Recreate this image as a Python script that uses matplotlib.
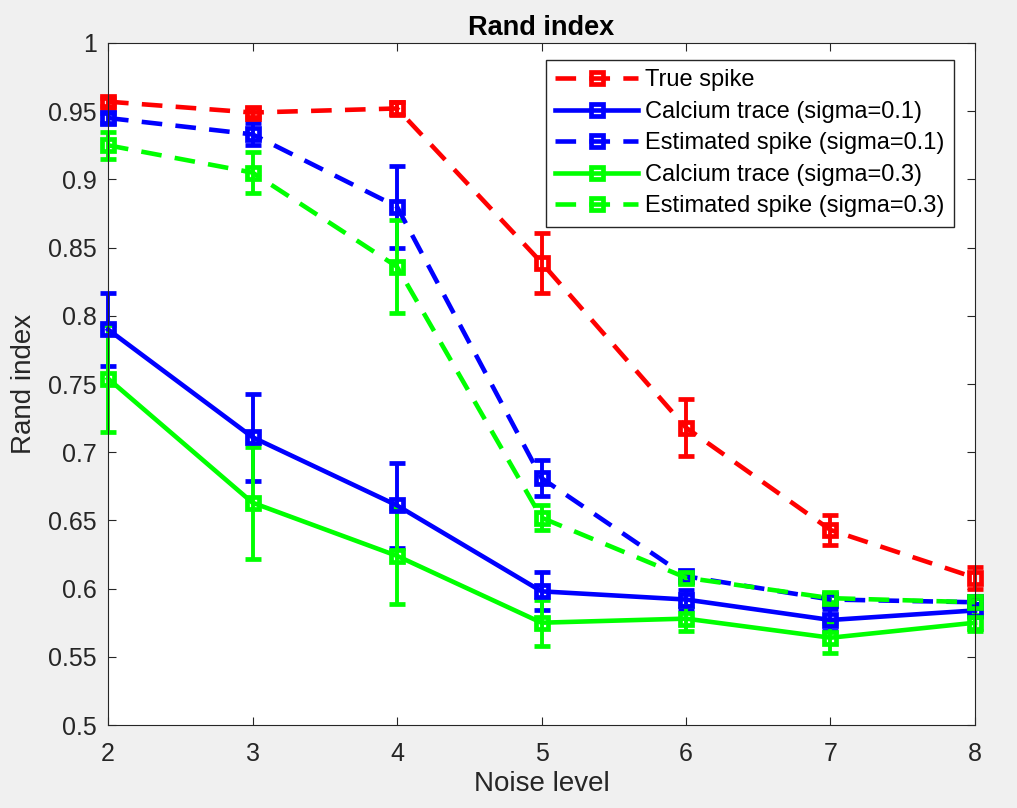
import matplotlib.pyplot as plt
from matplotlib.lines import Line2D

plt.rcParams['font.family'] = ['Liberation Sans', 'DejaVu Sans']

noise = [2, 3, 4, 5, 6, 7, 8]

true_spike = [0.957, 0.949, 0.952, 0.839, 0.718, 0.643, 0.608]
true_spike_err = [0.003, 0.003, 0.005, 0.022, 0.021, 0.011, 0.008]

calcium_01 = [0.790, 0.711, 0.661, 0.598, 0.592, 0.577, 0.584]
calcium_01_err = [0.027, 0.032, 0.031, 0.014, 0.007, 0.008, 0.005]

est_spike_01 = [0.945, 0.933, 0.880, 0.681, 0.609, 0.592, 0.590]
est_spike_01_err = [0.004, 0.008, 0.030, 0.013, 0.003, 0.003, 0.003]

calcium_03 = [0.754, 0.663, 0.624, 0.575, 0.578, 0.564, 0.575]
calcium_03_err = [0.039, 0.041, 0.035, 0.017, 0.009, 0.011, 0.006]

est_spike_03 = [0.925, 0.905, 0.836, 0.652, 0.608, 0.593, 0.590]
est_spike_03_err = [0.010, 0.015, 0.034, 0.009, 0.003, 0.003, 0.003]

series = [
    ('True spike', true_spike, true_spike_err, '#ff0000', '--'),
    ('Calcium trace (sigma=0.1)', calcium_01, calcium_01_err, '#0000ff', '-'),
    ('Estimated spike (sigma=0.1)', est_spike_01, est_spike_01_err, '#0000ff', '--'),
    ('Calcium trace (sigma=0.3)', calcium_03, calcium_03_err, '#00ff00', '-'),
    ('Estimated spike (sigma=0.3)', est_spike_03, est_spike_03_err, '#00ff00', '--'),
]

dash = [4.5, 2.9]
lw = 3.3
ms = 8.5
mew = 3.4

fig = plt.figure(figsize=(10.17, 8.08), dpi=100, facecolor='#f0f0f0')
ax = fig.add_axes([0.1062, 0.1027, 0.8525, 0.8441])

handles = []
for label, vals, errs, col, ls in series:
    line, caps, bars = ax.errorbar(noise, vals, yerr=errs, color=col, lw=lw,
                                   marker='s', markersize=ms, mfc='none', mew=mew,
                                   capsize=6, capthick=2.8, elinewidth=2.8)
    line.set_clip_on(False)
    for c in caps:
        c.set_clip_on(False)
    for b in bars:
        b.set_clip_on(False)
    h = Line2D([], [], color=col, lw=lw, marker='s', markersize=ms, mfc='none', mew=mew, label=label)
    if ls == '--':
        line.set_dashes(dash)
        h.set_dashes(dash)
    handles.append(h)

ax.set_xlim(2, 8)
ax.set_ylim(0.5, 1)
ax.set_xticks(noise)
ax.set_yticks([0.5, 0.55, 0.6, 0.65, 0.7, 0.75, 0.8, 0.85, 0.9, 0.95, 1])
ax.set_yticklabels(['0.5', '0.55', '0.6', '0.65', '0.7', '0.75', '0.8', '0.85', '0.9', '0.95', '1'])
ax.tick_params(direction='in', top=True, right=True, labelsize=18, colors='#262626', length=6)
ax.tick_params(axis='x', pad=12)
ax.tick_params(axis='y', pad=8)
for s in ax.spines.values():
    s.set_color('#262626')

ax.set_xlabel('Noise level', fontsize=20, color='#262626', labelpad=4)
ax.set_ylabel('Rand index', fontsize=20, color='#262626', labelpad=8)
ax.set_title('Rand index', fontsize=19.5, fontweight='bold', pad=6)

leg = ax.legend(handles=handles, loc='upper right', bbox_to_anchor=(0.9758, 0.975), borderaxespad=0,
                fontsize=17, numpoints=1, fancybox=False, edgecolor='#262626', framealpha=1,
                handlelength=3.5, borderpad=0.4, labelspacing=0.4, handletextpad=0.3)
leg.get_frame().set_linewidth(1)

fig.savefig('out.png', dpi=100, facecolor=fig.get_facecolor())
